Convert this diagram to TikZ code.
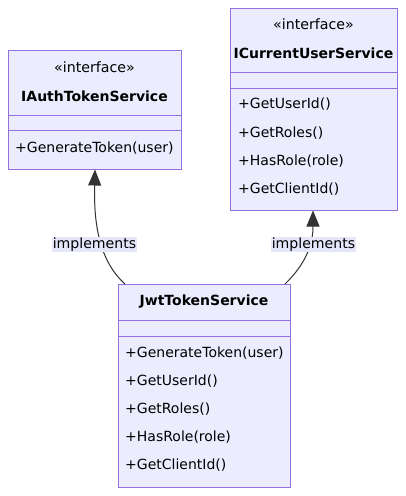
\documentclass[tikz,border=0pt]{standalone}
\usepackage{fontspec}
\setmainfont{DejaVu Sans}
\usetikzlibrary{arrows.meta}
\definecolor{classfill}{HTML}{ECECFF}
\definecolor{classline}{HTML}{9370DB}
\definecolor{edgeline}{HTML}{333333}
\definecolor{labelfill}{HTML}{E6E6FA}
\tikzset{
  classbox/.style={draw=classline,fill=classfill,line width=1pt,inner sep=0pt},
  member/.style={anchor=west,inner sep=0pt,text height=10pt,text depth=1pt,font=\fontsize{14}{16}\selectfont},
  stereo/.style={inner sep=0pt,text height=10pt,text depth=1pt,font=\fontsize{14.2}{16}\selectfont},
  classname/.style={inner sep=0pt,text height=10pt,text depth=1pt,font=\bfseries\fontsize{14}{16}\selectfont},
  realizes/.style={draw=edgeline,line width=1pt,-{Triangle[length=16pt,width=13pt,fill=edgeline]}},
  edgetext/.style={fill=labelfill,inner xsep=1pt,inner ysep=2pt,text height=10pt,text depth=1pt,font=\fontsize{14.1}{16}\selectfont}
}
\begin{document}
\begin{tikzpicture}[x=1pt,y=-1pt]
  \useasboundingbox (0,0) rectangle (405,496);
  % IAuthTokenService
  \node[classbox,minimum width=173pt,minimum height=119pt] (auth) at (94.5,109.5) {};
  \draw[classline] (auth.west |- 0,115) -- (auth.east |- 0,115) (auth.west |- 0,130) -- (auth.east |- 0,130);
  \node[stereo] (authStereo) at (94.5,68) {«interface»};
  \node[classname] (authName) at (94.5,97) {IAuthTokenService};
  \node[member] (authM1) at (15,148) {+GenerateToken(user)};
  % ICurrentUserService
  \node[classbox,minimum width=167pt,minimum height=202pt] (cur) at (313.5,109) {};
  \draw[classline] (cur.west |- 0,72) -- (cur.east |- 0,72) (cur.west |- 0,88) -- (cur.east |- 0,88);
  \node[stereo] (curStereo) at (313.5,25) {«interface»};
  \node[classname] (curName) at (313.5,54) {ICurrentUserService};
  \foreach \m/\y [count=\i] in {+GetUserId()/104,+GetRoles()/133,+HasRole(role)/161,+GetClientId()/189}
    \node[member] (curM\i) at (238,\y) {\m};
  % JwtTokenService
  \node[classbox,minimum width=172pt,minimum height=203pt] (jwt) at (204,385.5) {};
  \draw[classline] (jwt.west |- 0,320) -- (jwt.east |- 0,320) (jwt.west |- 0,336) -- (jwt.east |- 0,336);
  \node[classname] (jwtName) at (204,301) {JwtTokenService};
  \foreach \m/\y [count=\i] in {+GenerateToken(user)/353,+GetUserId()/381,+GetRoles()/409,+HasRole(role)/437,+GetClientId()/465}
    \node[member] (jwtM\i) at (125,\y) {\m};
  % realizations
  \coordinate (jwtL) at (125,284);
  \coordinate (jwtR) at (285,284);
  \draw[realizes] (jwtL) .. controls (96,258) and (94,215) .. (auth.south -| 95,0);
  \draw[realizes] (jwtR) .. controls (312,258) and (313,235) .. (cur.south -| 313,0);
  \node[edgetext] (implL) at (94.5,244) {implements};
  \node[edgetext] (implR) at (313.5,244) {implements};
\end{tikzpicture}
\end{document}
